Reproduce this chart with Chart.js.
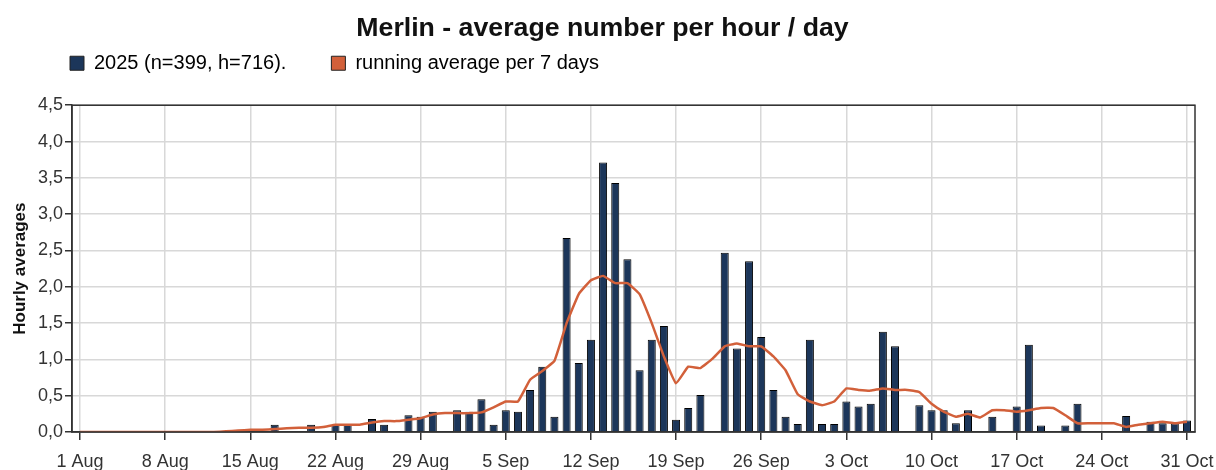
<!DOCTYPE html>
<html>
<head>
<meta charset="utf-8">
<script src="https://cdn.jsdelivr.net/npm/chart.js"></script>
<style>
  body { margin: 0; background: #fff; }
  #wrap { width: 1216px; height: 470px; }
</style>
</head>
<body>
<div id="wrap"><canvas id="chart"></canvas></div>
<script>
// day index 0 = 1 Aug 2025, 91 = 31 Oct 2025
const tickDays = [0, 7, 14, 21, 28, 35, 42, 49, 56, 63, 70, 77, 84, 91];
const tickLabels = ['1 Aug', '8 Aug', '15 Aug', '22 Aug', '29 Aug', '5 Sep', '12 Sep', '19 Sep',
                    '26 Sep', '3 Oct', '10 Oct', '17 Oct', '24 Oct', '31 Oct'];

// hourly average per day (null = no observation hours)
const hourlyAvg = [
  null, null, null, null, null, null, null, null, null, null,   // 1-10 Aug
  null, null, null, null, null, null, 0.10, null, null, 0.10,   // 11-20 Aug
  null, 0.10, 0.10, null, 0.18, 0.10, null, 0.23, 0.21, 0.28,   // 21-30 Aug
  null, 0.30, 0.28, 0.45, 0.10, 0.30, 0.28, 0.58, 0.90, 0.21,   // 31 Aug-9 Sep
  2.67, 0.95, 1.27, 3.71, 3.43, 2.38, 0.85, 1.27, 1.46, 0.17,   // 10-19 Sep
  0.33, 0.51, null, 2.47, 1.15, 2.35, 1.31, 0.58, 0.21, 0.11,   // 20-29 Sep
  1.27, 0.11, 0.11, 0.42, 0.35, 0.39, 1.38, 1.18, null, 0.37,   // 30 Sep-9 Oct
  0.30, 0.30, 0.12, 0.30, null, 0.21, null, 0.35, 1.20, 0.09,   // 10-19 Oct
  null, 0.09, 0.39, null, null, null, 0.22, null, 0.14, 0.12,   // 20-29 Oct
  0.12, 0.16                                                    // 30-31 Oct
];

// running average per 7 days
const runningAvg = [
  0, 0, 0, 0, 0, 0, 0, 0, 0, 0,
  0, 0, 0.01, 0.02, 0.03, 0.03, 0.04, 0.05, 0.06, 0.06,
  0.07, 0.10, 0.10, 0.10, 0.13, 0.15, 0.15, 0.17, 0.19, 0.24,
  0.26, 0.26, 0.26, 0.27, 0.34, 0.42, 0.42, 0.72, 0.84, 0.98,
  1.50, 1.90, 2.09, 2.15, 2.05, 2.05, 1.90, 1.50, 1.04, 0.67,
  0.90, 0.88, 1.01, 1.18, 1.22, 1.18, 1.18, 1.04, 0.85, 0.52,
  0.42, 0.37, 0.42, 0.60, 0.58, 0.57, 0.60, 0.58, 0.58, 0.55,
  0.39, 0.28, 0.21, 0.25, 0.20, 0.30, 0.30, 0.28, 0.30, 0.33,
  0.33, 0.23, 0.12, 0.12, 0.12, 0.12, 0.07, 0.10, 0.12, 0.14,
  0.12, 0.14
];

const barColor = '#1c365a';
const lineColor = '#d2603a';
const fontFamily = "'Liberation Sans', Arial, sans-serif";

// box around the plot area, legend nudged right to sit over the axis
const frame = {
  id: 'frame',
  afterLayout(chart) {
    chart.legend.left += 15;
    chart.legend.right += 15;
  },
  afterDraw(chart) {
    const { ctx, chartArea: a } = chart;
    ctx.save();
    ctx.strokeStyle = '#333';
    ctx.lineWidth = 1.5;
    ctx.strokeRect(a.left, a.top, a.right - a.left, a.bottom - a.top);
    ctx.restore();
  }
};

new Chart(document.getElementById('chart'), {
  type: 'bar',
  data: {
    datasets: [{
      type: 'bar',
      label: '2025 (n=399, h=716).',
      data: hourlyAvg.map((v, i) => ({ x: i, y: v })),
      backgroundColor: barColor,
      borderColor: '#000',
      borderWidth: 1,
      barPercentage: 0.66,
      categoryPercentage: 1,
      order: 2
    }, {
      type: 'line',
      label: 'running average per 7 days',
      data: runningAvg.map((v, i) => ({ x: i, y: v })),
      borderColor: lineColor,
      backgroundColor: lineColor,
      borderWidth: 2.5,
      pointRadius: 0,
      tension: 0.1,
      order: 1
    }]
  },
  options: {
    responsive: true,
    maintainAspectRatio: false,
    animation: false,
    layout: { padding: { left: 10, right: 21, top: 0, bottom: 0 } },
    plugins: {
      title: {
        display: true,
        text: 'Merlin - average number per hour / day',
        color: '#111',
        font: { family: fontFamily, size: 26.7, weight: 'bold' },
        padding: { top: 13, bottom: -36.8 }
      },
      legend: {
        align: 'start',
        labels: {
          color: '#333',
          font: { family: fontFamily, size: 20 },
          boxWidth: 14,
          boxHeight: 14,
          padding: 45,
          generateLabels(chart) {
            return chart.data.datasets.map((ds, i) => ({
              text: ds.label,
              fillStyle: ds.backgroundColor,
              strokeStyle: '#222',
              lineWidth: 1,
              datasetIndex: i
            }));
          }
        }
      },
      tooltip: { enabled: false }
    },
    scales: {
      x: {
        type: 'linear',
        offset: false,
        min: -0.66,
        max: 91.66,
        afterBuildTicks(scale) {
          scale.ticks = tickDays.map(v => ({ value: v }));
        },
        afterFit(scale) {
          scale.height = 38;
          scale.paddingLeft = 0;
          scale.paddingRight = 0;
        },
        ticks: {
          color: '#333',
          font: { family: fontFamily, size: 18 },
          maxRotation: 0,
          padding: 11,
          callback: (v) => tickLabels[tickDays.indexOf(v)] || ''
        },
        grid: { offset: false, color: '#d8d8d8', lineWidth: 1.5, tickColor: '#333', tickLength: 8 },
        border: { color: '#333', width: 1.5 }
      },
      // empty strip between legend and plot
      gap: {
        type: 'linear',
        position: 'top',
        display: true,
        afterFit(scale) { scale.height = 22; },
        ticks: { display: false },
        grid: { display: false },
        border: { display: false }
      },
      y: {
        min: 0,
        max: 4.5,
        afterFit(scale) {
          scale.width = 62;
          scale.paddingTop = 0;
          scale.paddingBottom = 0;
        },
        ticks: {
          stepSize: 0.5,
          color: '#333',
          font: { family: fontFamily, size: 18 },
          padding: 2,
          callback: (v) => v.toFixed(1).replace('.', ',')
        },
        grid: { color: '#d8d8d8', lineWidth: 1.5, tickColor: '#333', tickLength: 7 },
        border: { color: '#333', width: 1.5 },
        title: {
          display: true,
          text: 'Hourly averages',
          color: '#111',
          font: { family: fontFamily, size: 17, weight: 'bold' },
          padding: { top: 0, bottom: 4 }
        }
      }
    }
  },
  plugins: [frame]
});
</script>
</body>
</html>
